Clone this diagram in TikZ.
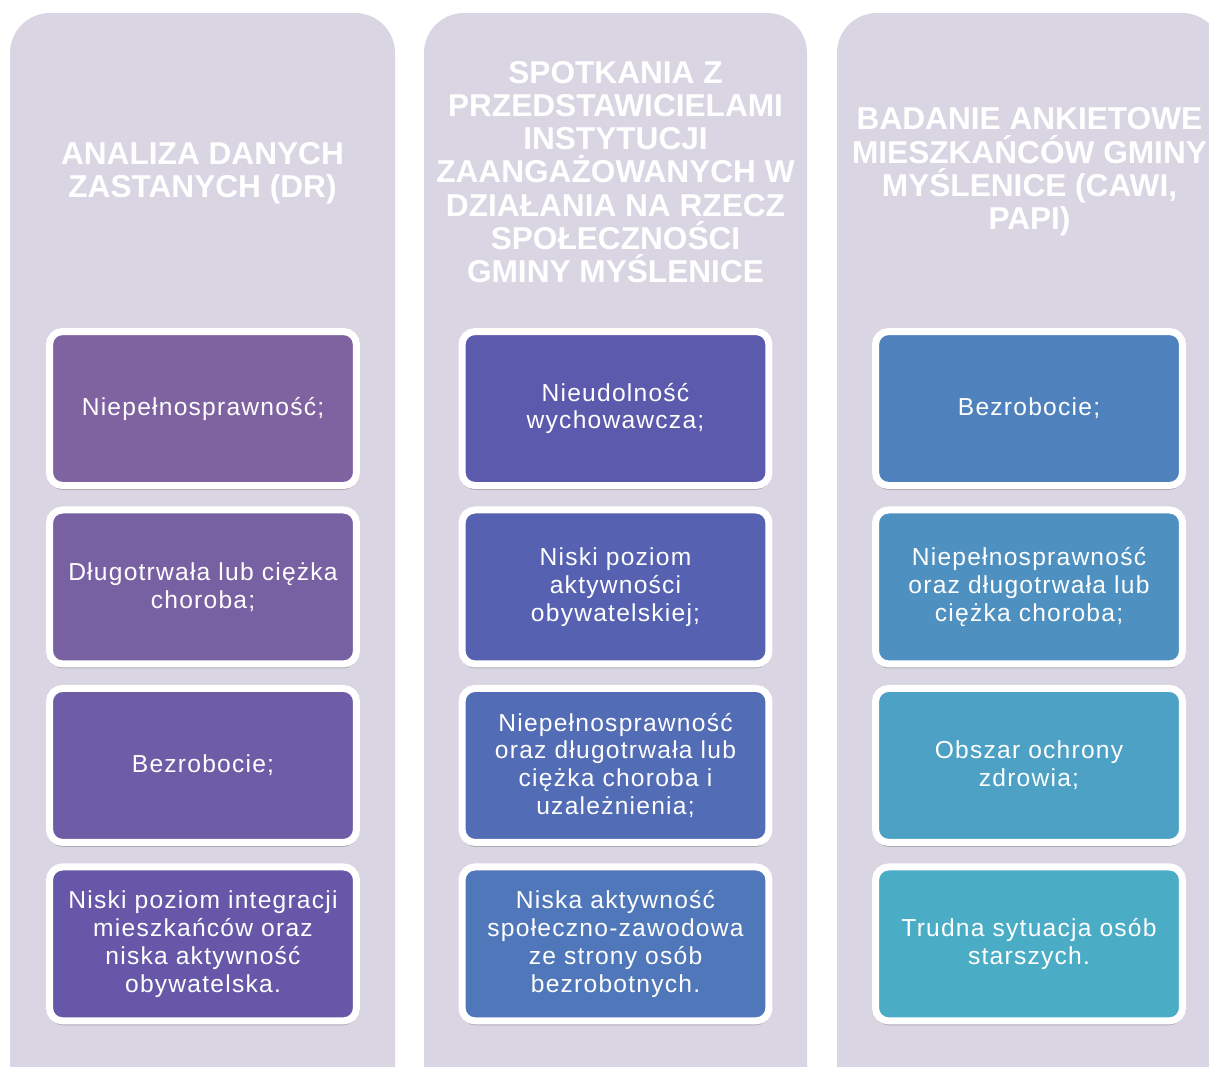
\documentclass[tikz,border=0pt]{standalone}
\usepackage{fontspec}
\setmainfont{Liberation Sans}
\usetikzlibrary{positioning, shadows}
\definecolor{colbg}{HTML}{D9D5E3}
\definecolor{cA1}{HTML}{7F63A1}
\definecolor{cA2}{HTML}{7861A3}
\definecolor{cA3}{HTML}{6F5CA6}
\definecolor{cA4}{HTML}{6657A9}
\definecolor{cB1}{HTML}{5B5AAD}
\definecolor{cB2}{HTML}{5662B1}
\definecolor{cB3}{HTML}{526CB5}
\definecolor{cB4}{HTML}{5077B9}
\definecolor{cC1}{HTML}{4F81BD}
\definecolor{cC2}{HTML}{4E90C0}
\definecolor{cC3}{HTML}{4CA1C4}
\definecolor{cC4}{HTML}{4BACC6}

\begin{document}
\begin{tikzpicture}[
    x=0.02cm, y=-0.02cm,
    node distance=0.35cm,
    column/.style={fill=colbg, rounded corners=0.8cm},
    heading/.style={text=white, align=center, inner sep=0pt, font=\bfseries\fontsize{18}{18.95}\selectfont},
    item/.style={draw=white, line width=0.14cm, rounded corners=0.26cm, minimum width=6.14cm, minimum height=3.08cm,
        inner sep=0pt, text=white, align=center, font=\addfontfeatures{LetterSpace=5}\fontsize{14}{15.9}\selectfont,
        drop shadow={shadow xshift=0cm, shadow yshift=-0.09cm, opacity=0.3, fill=black!70}}
]
    \useasboundingbox (0,0) rectangle (1209,1066);
    \clip (0,0) rectangle (1209,1066);

    % Column backgrounds
    \fill[column] (10,13) rectangle (395,1110);
    \fill[column] (424,13) rectangle (807,1110);
    \fill[column] (837,13) rectangle (1222,1110);

    % Headings
    \node[heading] (t1) at (202.5,173) {ANALIZA DANYCH\\ZASTANYCH (DR)};
    \node[heading] (t2) at (615.5,172) {SPOTKANIA Z\\PRZEDSTAWICIELAMI\\INSTYTUCJI\\ZAANGAŻOWANYCH W\\DZIAŁANIA NA RZECZ\\SPOŁECZNOŚCI\\GMINY MYŚLENICE};
    \node[heading] (t3) at (1029.5,172) {BADANIE ANKIETOWE\\MIESZKAŃCÓW GMINY\\MYŚLENICE (CAWI,\\PAPI)};

    % First column
    \node[item, fill=cA1] (a1) at (203,408.5) {Niepełnosprawność;};
    \node[item, fill=cA2, below=of a1] (a2) {Długotrwała lub ciężka\\choroba;};
    \node[item, fill=cA3, below=of a2] (a3) {Bezrobocie;};
    \node[item, fill=cA4, below=of a3] (a4) {Niski poziom integracji\\mieszkańców oraz\\niska aktywność\\obywatelska.};

    % Second column
    \node[item, fill=cB1] (b1) at (615.5,408.5) {Nieudolność\\wychowawcza;};
    \node[item, fill=cB2, below=of b1] (b2) {Niski poziom\\aktywności\\obywatelskiej;};
    \node[item, fill=cB3, below=of b2] (b3) {Niepełnosprawność\\oraz długotrwała lub\\ciężka choroba i\\uzależnienia;};
    \node[item, fill=cB4, below=of b3] (b4) {Niska aktywność\\społeczno-zawodowa\\ze strony osób\\bezrobotnych.};

    % Third column
    \node[item, fill=cC1] (c1) at (1029,408.5) {Bezrobocie;};
    \node[item, fill=cC2, below=of c1] (c2) {Niepełnosprawność\\oraz długotrwała lub\\ciężka choroba;};
    \node[item, fill=cC3, below=of c2] (c3) {Obszar ochrony\\zdrowia;};
    \node[item, fill=cC4, below=of c3] (c4) {Trudna sytuacja osób\\starszych.};
\end{tikzpicture}
\end{document}
